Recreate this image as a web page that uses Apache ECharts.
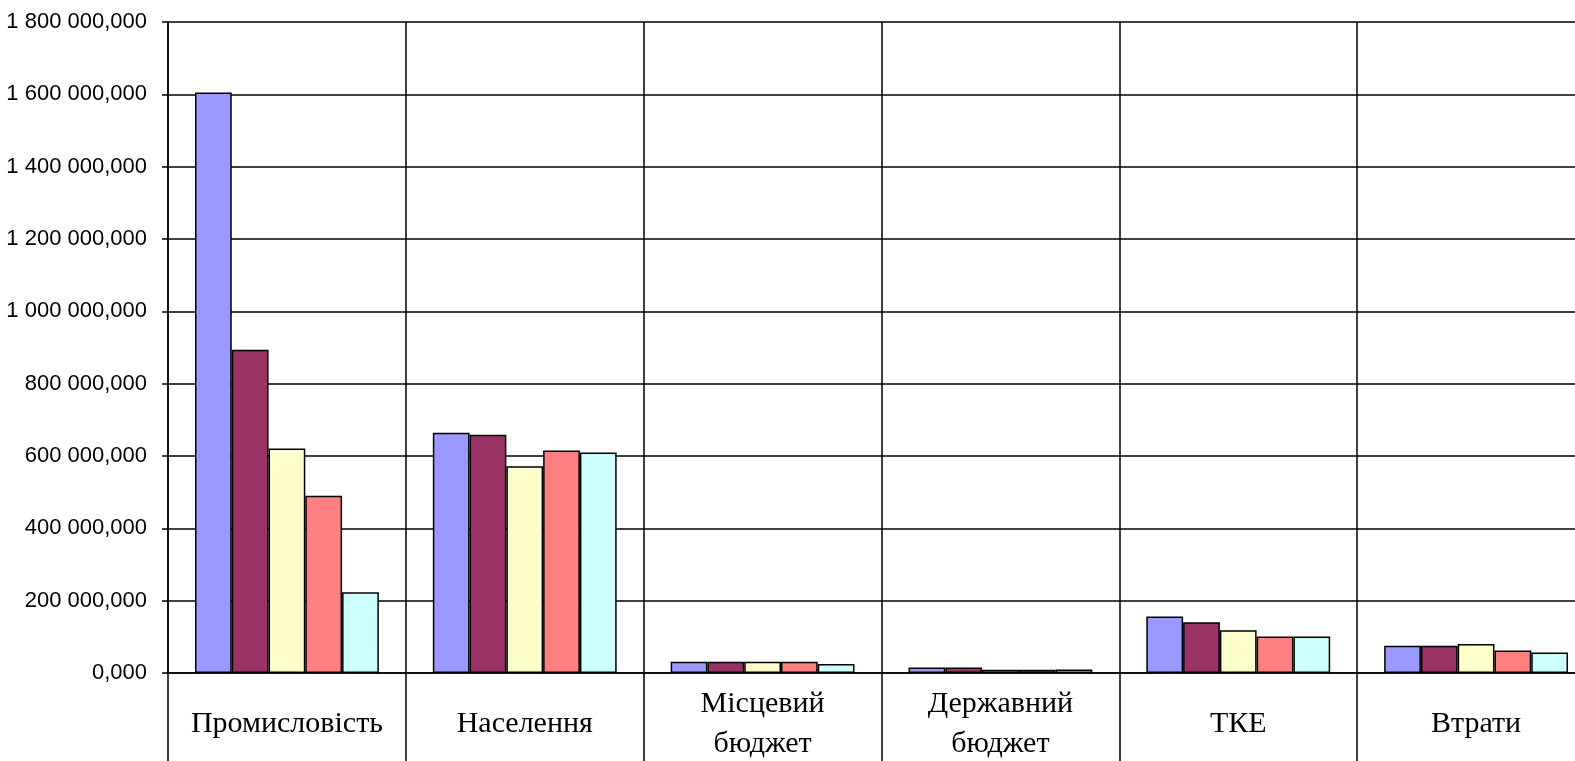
<!DOCTYPE html>
<html>
<head>
<meta charset="utf-8">
<script src="https://cdn.jsdelivr.net/npm/echarts@6/dist/echarts.min.js"></script>
<style>
html,body{margin:0;padding:0;background:#fff;}
#chart{width:1575px;height:761px;}
</style>
</head>
<body>
<div id="chart"></div>
<script>
const categories = ['Промисловість', 'Населення', 'Місцевий\nбюджет', 'Державний\nбюджет', 'ТКЕ', 'Втрати'];
const seriesNames = ['Ряд1', 'Ряд2', 'Ряд3', 'Ряд4', 'Ряд5'];
const series1 = [1605000, 664000, 31000, 15500, 156500, 75500];
const series2 = [894000, 659000, 31000, 15500, 140000, 75500];
const series3 = [621000, 572000, 31000, 9000, 118000, 80000];
const series4 = [490000, 615000, 31000, 9000, 101000, 62500];
const series5 = [223000, 610000, 25000, 9500, 101000, 57000];
const colors = ['#9999FF', '#993366', '#FFFFCC', '#FF8080', '#CCFFFF'];
const yMin = 0, yMax = 1800000, yInterval = 200000;

const allSeries = [series1, series2, series3, series4, series5];

function fmt(v) {
  return String(Math.round(v)).replace(/\B(?=(\d{3})+(?!\d))/g, ' ') + ',000';
}

const chart = echarts.init(document.getElementById('chart'));
chart.setOption({
  backgroundColor: '#ffffff',
  animation: false,
  grid: { left: 168, top: 22, width: 1427, height: 651, containLabel: false, outerBoundsMode: 'none' },
  xAxis: {
    type: 'category',
    data: categories,
    boundaryGap: true,
    axisLine: { show: true, lineStyle: { color: '#000', width: 1.5 } },
    axisTick: { show: true, length: 92, lineStyle: { color: '#000', width: 1.5 } },
    splitLine: { show: true, lineStyle: { color: '#000', width: 1.5 } },
    axisLabel: {
      interval: 0,
      margin: 51,
      verticalAlign: 'middle',
      fontFamily: 'Liberation Serif',
      fontSize: 30,
      lineHeight: 40,
      color: '#000'
    }
  },
  yAxis: {
    type: 'value',
    min: yMin,
    max: yMax,
    interval: yInterval,
    axisLine: { show: true, lineStyle: { color: '#000', width: 1.5 } },
    axisTick: { show: true, length: 6, lineStyle: { color: '#000', width: 1.5 } },
    splitLine: { show: true, lineStyle: { color: '#000', width: 1.5 } },
    axisLabel: {
      margin: 21,
      formatter: fmt,
      fontFamily: 'Liberation Sans',
      fontSize: 22,
      color: '#000'
    }
  },
  series: allSeries.map((d, i) => ({
    name: seriesNames[i],
    type: 'bar',
    data: d,
    barGap: '0%',
    barCategoryGap: '22.7%',
    itemStyle: { color: colors[i], borderColor: '#000', borderWidth: 1.5 }
  }))
});
</script>
</body>
</html>
